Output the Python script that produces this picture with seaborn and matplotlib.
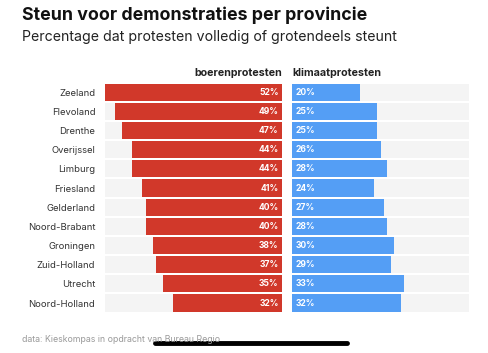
import matplotlib
matplotlib.use("Agg")
import matplotlib.pyplot as plt
import pandas as pd
import seaborn as sns

provinces = ["Zeeland", "Flevoland", "Drenthe", "Overijssel", "Limburg", "Friesland",
             "Gelderland", "Noord-Brabant", "Groningen", "Zuid-Holland", "Utrecht", "Noord-Holland"]
boeren = [52, 49, 47, 44, 44, 41, 40, 40, 38, 37, 35, 32]
klimaat = [20, 25, 25, 26, 28, 24, 27, 28, 30, 29, 33, 32]

RED = "#d1382a"
BLUE = "#549ef5"
BG = "#f4f4f4"
FONT = "Inter"

sns.set_theme(style="white")
plt.rcParams["font.family"] = [FONT, "DejaVu Sans"]

df = pd.DataFrame({"provincie": provinces, "boeren": boeren, "klimaat": klimaat})
df["max"] = max(boeren)

fig = plt.figure(figsize=(4.88, 3.53), dpi=100)
fig.patch.set_facecolor("white")

ax_l = fig.add_axes([105 / 488, 1 - 312.6 / 353, 177 / 488, 230 / 353])
ax_r = fig.add_axes([292 / 488, 1 - 312.6 / 353, 177 / 488, 230 / 353])

for ax, col, color in [(ax_l, "boeren", RED), (ax_r, "klimaat", BLUE)]:
    sns.barplot(data=df, y="provincie", x="max", color=BG, saturation=1,
                width=0.9, ax=ax, orient="h", linewidth=0)
    sns.barplot(data=df, y="provincie", x=col, color=color, saturation=1,
                width=0.9, ax=ax, orient="h", linewidth=0)
    ax.set_xlim(0, max(boeren))
    ax.set_xlabel("")
    ax.set_ylabel("")
    ax.set_xticks([])
    for s in ax.spines.values():
        s.set_visible(False)

ax_l.invert_xaxis()
ax_l.tick_params(axis="y", length=0, pad=7, labelsize=6.8, labelcolor="#333333")
ax_r.set_yticks([])

for i, (b, k) in enumerate(zip(boeren, klimaat)):
    ax_l.text(1, i, f"{b}%", ha="right", va="center", color="white",
              fontsize=6.2, fontweight="bold")
    ax_r.text(1, i, f"{k}%", ha="left", va="center", color="white",
              fontsize=6.2, fontweight="bold")

fig.text(282 / 488, 1 - 73 / 353, "boerenprotesten", ha="right", va="center",
         fontsize=7.7, fontweight="bold", color="#222222")
fig.text(292 / 488, 1 - 73 / 353, "klimaatprotesten", ha="left", va="center",
         fontsize=7.7, fontweight="bold", color="#222222")

fig.text(22 / 488, 1 - 15 / 353, "Steun voor demonstraties per provincie", ha="left",
         va="center", fontsize=12.8, fontweight="bold", color="#111111")
fig.text(22 / 488, 1 - 37 / 353, "Percentage dat protesten volledig of grotendeels steunt",
         ha="left", va="center", fontsize=10.2, color="#222222")
fig.text(22 / 488, 1 - 340 / 353, "data: Kieskompas in opdracht van Bureau Regio",
         ha="left", va="center", fontsize=6.3, color="#999999")

# phone home indicator from the screenshot
fig.add_artist(plt.Line2D([155 / 488, 347 / 488], [1 - 343 / 353, 1 - 343 / 353],
                          color="black", linewidth=3.5, solid_capstyle="round"))

fig.savefig("out.png", dpi=100)
